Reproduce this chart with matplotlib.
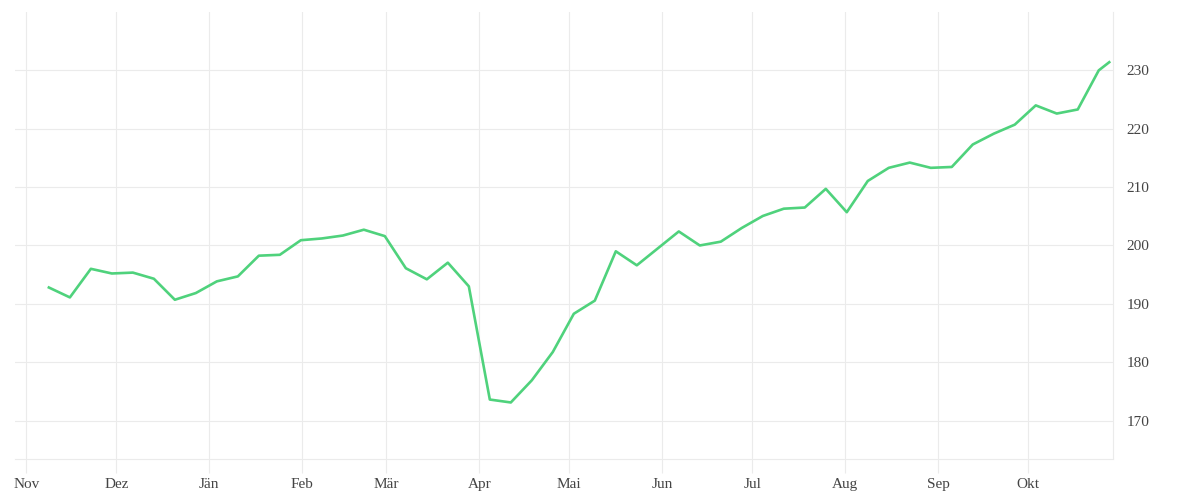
import pandas as pd
import matplotlib
matplotlib.use("Agg")
import matplotlib.pyplot as plt

# weekly values (last point is a partial week)
week_dates = list(pd.date_range("2018-11-08 12:00", periods=51, freq="7D")) + [pd.Timestamp("2019-10-28")]
values = [192.8, 191.1, 196.0, 195.2, 195.35, 194.3, 190.7, 191.85, 193.85, 194.7,
          198.25, 198.4, 200.9, 201.2, 201.7, 202.7, 201.6, 196.1, 194.2, 197.05,
          193.0, 173.6, 173.1, 176.9, 181.75, 188.3, 190.55, 199.0, 196.6, 199.5,
          202.4, 200.0, 200.65, 203.0, 205.05, 206.3, 206.5, 209.7, 205.7, 211.05,
          213.3, 214.2, 213.3, 213.45, 217.3, 219.15, 220.7, 224.0, 222.6, 223.3,
          230.0, 231.4]

month_starts = pd.date_range("2018-11-01", periods=12, freq="MS")
month_labels = ["Nov", "Dez", "Jän", "Feb", "Mär", "Apr", "Mai", "Jun", "Jul", "Aug", "Sep", "Okt"]
y_ticks = [170, 180, 190, 200, 210, 220, 230]

plt.rcParams["font.family"] = ["Liberation Serif", "DejaVu Serif"]

fig = plt.figure(figsize=(12, 5), dpi=100)
ax = fig.add_axes([15 / 1200, 41.5 / 500, (1112.5 - 15) / 1200, (458.5 - 12) / 500])

grid_c = "#ebebeb"
ax.plot(week_dates, values, color="#4fd27c", linewidth=1.9, zorder=3)

ax.set_xlim(pd.Timestamp("2018-10-28 05:00"), pd.Timestamp("2019-10-29 02:00"))
ax.set_ylim(163.5, 240)

ax.set_xticks(month_starts)
ax.set_xticklabels(month_labels)
ax.set_yticks(y_ticks)

ax.yaxis.tick_right()
ax.tick_params(axis="y", length=0, pad=10, labelsize=11, labelcolor="#444444")
ax.tick_params(axis="x", length=10, width=0.8, color=grid_c, pad=4, labelsize=11, labelcolor="#444444")

ax.grid(True, color=grid_c, linewidth=0.8)
ax.set_axisbelow(True)

for side in ["top", "left"]:
    ax.spines[side].set_visible(False)
for side in ["bottom", "right"]:
    ax.spines[side].set_color(grid_c)
    ax.spines[side].set_linewidth(0.8)

fig.savefig("out.png", dpi=100, facecolor="white")
